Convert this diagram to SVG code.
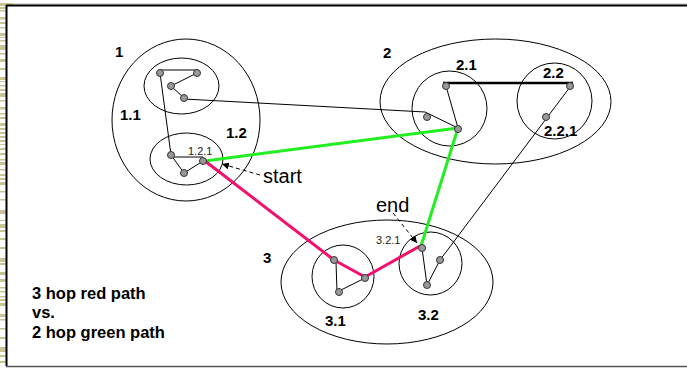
<svg xmlns="http://www.w3.org/2000/svg" width="687" height="368" viewBox="0 0 687 368">
<defs>
<style>
.ring{fill:none;stroke:#000;stroke-width:1}
.nd{fill:#999;stroke:#333;stroke-width:1}
.ln{fill:none;stroke:#000;stroke-width:1}
.lbl{font-family:"Liberation Sans",Arial,sans-serif;font-weight:bold;font-size:15px;fill:#000}
.sm{font-family:"Liberation Sans",Arial,sans-serif;font-size:11px;fill:#222}
.big{font-family:"Liberation Sans",Arial,sans-serif;font-size:20px;fill:#000}
.leg{font-family:"Liberation Sans",Arial,sans-serif;font-weight:bold;font-size:16.5px;fill:#000}
.stripe{fill:#c8c494}
.dash{fill:none;stroke:#000;stroke-width:1;stroke-dasharray:4 3}
</style>
<marker id="ah" viewBox="0 0 10 10" refX="10" refY="5" markerWidth="7" markerHeight="7" orient="auto" markerUnits="userSpaceOnUse">
<path d="M0,0 L10,5 L0,10 z" fill="#000"/>
</marker>
</defs>
<rect x="0" y="0" width="687" height="368" fill="#fff"/>
<g id="border-stripes">
<rect class="stripe" x="0" y="3" width="13" height="3"/>
<rect class="stripe" x="0" y="7" width="6" height="2"/>
<rect class="stripe" x="0" y="10" width="6" height="1.5"/>
<rect class="stripe" x="0" y="17" width="6" height="2.5"/>
<rect class="stripe" x="0" y="22" width="6" height="2"/>
<rect class="stripe" x="0" y="27" width="6" height="1.5"/>
<rect class="stripe" x="0" y="33" width="6" height="3"/>
<rect class="stripe" x="0" y="37" width="6" height="1"/>
<rect class="stripe" x="0" y="40" width="6" height="1.5"/>
<rect class="stripe" x="0" y="45" width="6" height="5"/>
<rect class="stripe" x="0" y="53" width="6" height="1.5"/>
<rect class="stripe" x="0" y="59" width="6" height="3"/>
<rect class="stripe" x="0" y="68" width="6" height="2"/>
<rect class="stripe" x="0" y="77" width="6" height="3"/>
<rect class="stripe" x="0" y="81" width="6" height="1"/>
<rect class="stripe" x="0" y="85" width="6" height="1.5"/>
<rect class="stripe" x="0" y="89" width="6" height="2"/>
<rect class="stripe" x="0" y="93" width="6" height="4"/>
<rect class="stripe" x="0" y="100" width="6" height="1.5"/>
<rect class="stripe" x="0" y="107" width="6" height="2.5"/>
<rect class="stripe" x="0" y="113" width="6" height="1.5"/>
<rect class="stripe" x="0" y="117" width="6" height="2"/>
<rect class="stripe" x="0" y="123" width="6" height="3"/>
<rect class="stripe" x="0" y="128" width="6" height="2"/>
<rect class="stripe" x="0" y="132" width="6" height="2"/>
<rect class="stripe" x="0" y="136" width="6" height="2"/>
<rect class="stripe" x="0" y="140" width="6" height="2"/>
<rect class="stripe" x="0" y="144" width="6" height="1"/>
<rect class="stripe" x="0" y="148" width="6" height="2"/>
<rect class="stripe" x="0" y="153" width="6" height="2"/>
<rect class="stripe" x="0" y="159" width="6" height="1.5"/>
<rect class="stripe" x="0" y="162" width="6" height="3"/>
<rect class="stripe" x="0" y="169" width="6" height="1.5"/>
<rect class="stripe" x="0" y="174" width="6" height="2"/>
<rect class="stripe" x="0" y="178" width="6" height="2"/>
<rect class="stripe" x="0" y="182" width="6" height="3"/>
<rect class="stripe" x="0" y="191" width="6" height="1.5"/>
<rect class="stripe" x="0" y="199" width="6" height="1.5"/>
<rect class="stripe" x="0" y="210" width="6" height="4"/>
<rect class="stripe" x="0" y="220" width="6" height="1"/>
<rect class="stripe" x="0" y="224" width="6" height="4"/>
<rect class="stripe" x="0" y="230" width="6" height="2"/>
<rect class="stripe" x="0" y="238" width="6" height="2"/>
<rect class="stripe" x="0" y="247" width="6" height="2"/>
<rect class="stripe" x="0" y="258" width="6" height="4"/>
<rect class="stripe" x="0" y="263" width="6" height="2"/>
<rect class="stripe" x="0" y="272" width="6" height="3"/>
<rect class="stripe" x="0" y="279" width="6" height="3"/>
<rect class="stripe" x="0" y="287" width="6" height="1.5"/>
<rect class="stripe" x="0" y="291" width="6" height="1.5"/>
<rect class="stripe" x="0" y="296" width="6" height="1.5"/>
<rect class="stripe" x="0" y="299" width="6" height="2"/>
<rect class="stripe" x="0" y="303" width="6" height="3"/>
<rect class="stripe" x="0" y="314" width="6" height="3"/>
<rect class="stripe" x="0" y="319" width="6" height="1.5"/>
<rect class="stripe" x="0" y="328" width="6" height="1.5"/>
<rect class="stripe" x="0" y="337" width="6" height="2"/>
<rect class="stripe" x="0" y="347" width="6" height="5"/>
<rect class="stripe" x="0" y="355" width="6" height="2"/>
<rect class="stripe" x="0" y="361" width="6" height="2"/>
</g>
<g id="frame">
<line x1="13" y1="4" x2="687" y2="4" stroke="#bbb" stroke-width="1"/>
<line x1="6" y1="5.5" x2="687" y2="5.5" stroke="#000" stroke-width="2"/>
<line x1="6.5" y1="5" x2="6.5" y2="366" stroke="#000" stroke-width="2"/>
<line x1="6" y1="366.5" x2="687" y2="366.5" stroke="#555" stroke-width="1.5"/>
</g>
<g id="cluster-1">
<ellipse class="ring" cx="186" cy="120" rx="74" ry="81"/>
<text class="lbl" x="115" y="57">1</text>
</g>
<g id="cluster-1.1">
<ellipse class="ring" cx="181.5" cy="86" rx="37.5" ry="28"/>
<text class="lbl" x="120" y="120">1.1</text>
<path class="ln" d="M160,70 L197,70 M197,73 L171,86 L184,98"/>
</g>
<g id="cluster-1.2">
<ellipse class="ring" cx="186.5" cy="159" rx="36.5" ry="26"/>
<text class="lbl" x="226" y="138">1.2</text>
<path class="ln" d="M171,157 L203,157 M171,155 L184,173 L203,161"/>
<text class="sm" x="188" y="155">1.2.1</text>
</g>
<g id="cluster-2">
<ellipse class="ring" cx="495.5" cy="101.5" rx="115.5" ry="62.5"/>
<text class="lbl" x="383" y="58">2</text>
</g>
<g id="cluster-2.1">
<ellipse class="ring" cx="449.5" cy="108.5" rx="37.5" ry="37.5"/>
<text class="lbl" x="456" y="70">2.1</text>
</g>
<g id="cluster-2.2">
<ellipse class="ring" cx="554.5" cy="101" rx="37.5" ry="38"/>
<text class="lbl" x="543" y="78">2.2</text>
<text class="lbl" x="544" y="136">2.2.1</text>
</g>
<g id="cluster-3">
<ellipse class="ring" cx="387" cy="282" rx="106" ry="62"/>
<text class="lbl" x="263" y="263">3</text>
</g>
<g id="cluster-3.1">
<ellipse class="ring" cx="343" cy="276.5" rx="31" ry="31.5"/>
<text class="lbl" x="325" y="326">3.1</text>
<path class="ln" d="M336,262 L337,292 L365,278"/>
</g>
<g id="cluster-3.2">
<ellipse class="ring" cx="430.5" cy="263.5" rx="31.5" ry="31.5"/>
<text class="lbl" x="418" y="320">3.2</text>
<path class="ln" d="M422,248 L427,285 L440,260"/>
<text class="sm" x="376" y="244">3.2.1</text>
</g>
<g id="connectors">
<path class="ln" d="M160,73 L171,155"/>
<path class="ln" d="M184,99 L425,112 L458,128"/>
<line x1="443" y1="83" x2="573" y2="83" stroke="#000" stroke-width="2.5"/>
<path class="ln" d="M446,86 L458,128"/>
<path class="ln" d="M570,87 L440,260"/>
<polyline points="205,161 458,128 421,246" fill="none" stroke="#22ee22" stroke-width="3" stroke-linejoin="round"/>
<polyline points="205,161 334,260 365,277 420,246" fill="none" stroke="#f50f6a" stroke-width="3" stroke-linejoin="round"/>
<line class="dash" x1="260" y1="175" x2="222" y2="164" marker-end="url(#ah)"/>
<line class="dash" x1="393" y1="213" x2="417" y2="243" marker-end="url(#ah)"/>
</g>
<g id="nodes">
<circle class="nd" cx="160" cy="73" r="3.5"/>
<circle class="nd" cx="197" cy="73" r="3.5"/>
<circle class="nd" cx="171" cy="86" r="3.5"/>
<circle class="nd" cx="184" cy="98" r="3.5"/>
<circle class="nd" cx="171" cy="155" r="3.5"/>
<circle class="nd" cx="184" cy="173" r="3.5"/>
<circle class="nd" cx="203" cy="161" r="3.5"/>
<circle class="nd" cx="446" cy="86" r="3.5"/>
<circle class="nd" cx="427" cy="117" r="3.5"/>
<circle class="nd" cx="458" cy="129" r="3.5"/>
<circle class="nd" cx="570" cy="86" r="3.5"/>
<circle class="nd" cx="546" cy="117" r="3.5"/>
<circle class="nd" cx="334" cy="260" r="3.5"/>
<circle class="nd" cx="339" cy="292" r="3.5"/>
<circle class="nd" cx="365" cy="278" r="3.5"/>
<circle class="nd" cx="422" cy="248" r="3.5"/>
<circle class="nd" cx="440" cy="260" r="3.5"/>
<circle class="nd" cx="427" cy="285" r="3.5"/>
</g>
<g id="annotations">
<text class="big" x="263" y="183">start</text>
<text class="big" x="376" y="212">end</text>
<text class="leg" x="32" y="299">3 hop red path</text>
<text class="leg" x="32" y="318">vs.</text>
<text class="leg" x="32" y="338">2 hop green path</text>
</g>
</svg>
